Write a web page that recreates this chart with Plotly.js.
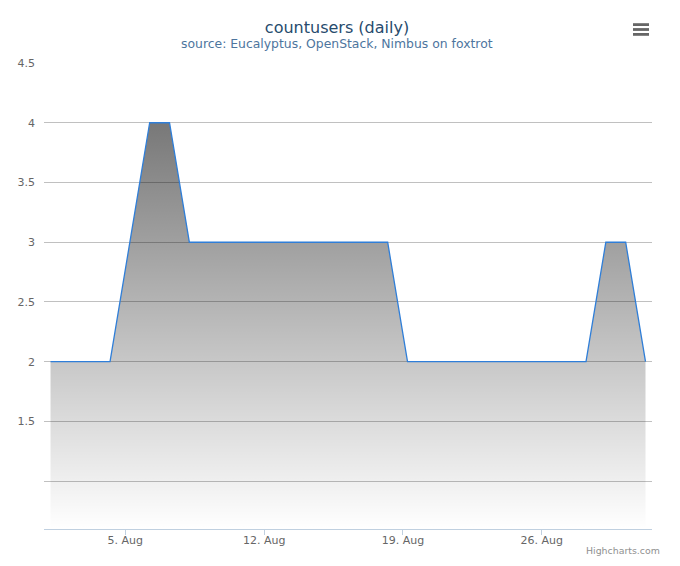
<!DOCTYPE html>
<html>
<head>
<meta charset="utf-8">
<script src="https://cdn.plot.ly/plotly-3.0.1.min.js"></script>
<style>html,body{margin:0;padding:0;background:#fff;}#chart{width:680px;height:566px;}</style>
</head>
<body>
<div id="chart"></div>
<script>
const dates = [
  '2013-08-01 05:30','2013-08-02 05:30','2013-08-03 05:30','2013-08-04 05:30','2013-08-05 05:30',
  '2013-08-06 05:30','2013-08-07 05:30','2013-08-08 05:30','2013-08-09 05:30','2013-08-10 05:30',
  '2013-08-11 05:30','2013-08-12 05:30','2013-08-13 05:30','2013-08-14 05:30','2013-08-15 05:30',
  '2013-08-16 05:30','2013-08-17 05:30','2013-08-18 05:30','2013-08-19 05:30','2013-08-20 05:30',
  '2013-08-21 05:30','2013-08-22 05:30','2013-08-23 05:30','2013-08-24 05:30','2013-08-25 05:30',
  '2013-08-26 05:30','2013-08-27 05:30','2013-08-28 05:30','2013-08-29 05:30','2013-08-30 05:30',
  '2013-08-31 05:30'
];
const countusers = [2,2,2,2,3,4,4,3,3,3,3,3,3,3,3,3,3,3,2,2,2,2,2,2,2,2,2,2,3,3,2];
const xTickVals = ['2013-08-05','2013-08-12','2013-08-19','2013-08-26'];
const xTickText = ['5. Aug','12. Aug','19. Aug','26. Aug'];
const yTickVals = [1,1.5,2,2.5,3,3.5,4,4.5];
const yTickText = ['','1.5','2','2.5','3','3.5','4','4.5'];

const FONT = 'DejaVu Sans, Verdana, sans-serif';
const W = 680, H = 566, L = 44, R = 28, T = 63, B = 37;
const pw = W - L - R, ph = H - T - B;
const px2x = p => (p - L) / pw;
const py2y = p => (H - B - p) / ph;

const trace = {
  x: dates, y: countusers, type: 'scatter', mode: 'lines',
  line: {color: '#2f7ed8', width: 1.3},
  fill: 'tozeroy',
  fillgradient: {type: 'vertical', start: 0.6, stop: 4,
    colorscale: [[0, 'rgba(0,0,0,0)'], [1, 'rgba(0,0,0,0.53)']]},
  hoverinfo: 'skip'
};

const bars = [24.6, 29.5, 34.4].map(c => ({
  type: 'rect', xref: 'paper', yref: 'paper',
  x0: px2x(633), x1: px2x(649), y0: py2y(c + 1.4), y1: py2y(c - 1.4),
  fillcolor: '#666', line: {width: 0}, layer: 'above'
}));

const layout = {
  width: W, height: H,
  margin: {l: L, r: R, t: T, b: B, pad: 0},
  paper_bgcolor: '#fff', plot_bgcolor: '#fff',
  font: {family: FONT, color: '#666', size: 11},
  showlegend: false,
  title: {text: 'countusers (daily)', xref: 'container', yref: 'container',
    x: 337 / W, xanchor: 'center', y: 1 - 27 / H, yanchor: 'middle',
    font: {family: FONT, size: 16, color: '#274b6d'}},
  xaxis: {
    type: 'date', range: ['2013-07-31 21:36', '2013-08-31 13:22'],
    tickmode: 'array', tickvals: xTickVals, ticktext: xTickText,
    showgrid: false, zeroline: false,
    showline: true, linecolor: '#C0D0E0', linewidth: 1,
    ticks: 'outside', ticklen: 5, tickcolor: '#C0D0E0', tickwidth: 1,
    ticklabelstandoff: -4,
    tickfont: {family: FONT, size: 11, color: '#666'}
  },
  yaxis: {
    range: [0.6, 4.5], tickmode: 'array', tickvals: yTickVals, ticktext: yTickText,
    showgrid: true, gridcolor: '#C0C0C0', gridwidth: 1, zeroline: false,
    showline: false, ticks: '', ticklabelstandoff: 8,
    tickfont: {family: FONT, size: 11, color: '#666'}
  },
  shapes: bars,
  annotations: [
    {text: 'source: Eucalyptus, OpenStack, Nimbus on foxtrot', xref: 'paper', yref: 'paper',
     x: px2x(337), y: py2y(44), xanchor: 'center', yanchor: 'middle', showarrow: false,
     font: {family: FONT, size: 12.4, color: '#4d759e'}},
    {text: 'Highcharts.com', xref: 'paper', yref: 'paper',
     x: px2x(662), y: py2y(550), xanchor: 'right', yanchor: 'middle', showarrow: false,
     font: {family: FONT, size: 9.4, color: '#909090'}}
  ]
};

Plotly.newPlot('chart', [trace], layout, {displayModeBar: false, staticPlot: true});
</script>
</body>
</html>
